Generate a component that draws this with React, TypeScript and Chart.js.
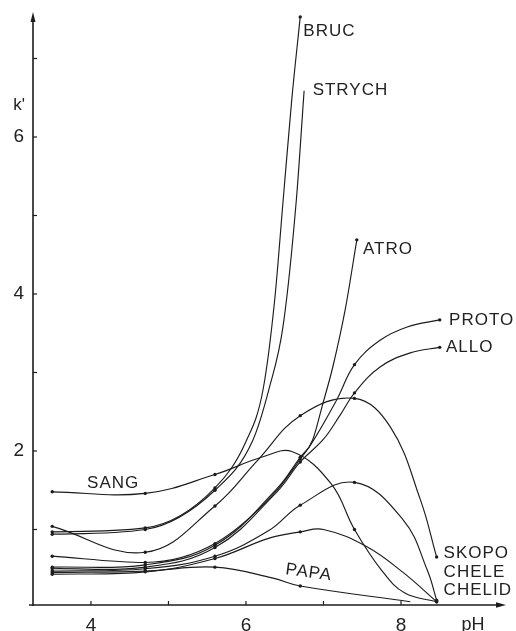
import React, { useEffect, useRef } from 'react';
import { Chart, registerables } from 'chart.js';

Chart.register(...registerables);

type P = [number, number];

// pH values at which measurements were taken (drawn with a dot)
const MEASURED_PH = [3.5, 4.7, 5.6, 6.7, 7.4, 8.5];
const X_TICKS = [4, 6, 8];
const X_MINOR = [5, 7];
const Y_TICKS = [2, 4, 6];
const Y_MINOR = [1, 3, 5, 7];

// k' versus pH
const BRUC: P[] = [[3.5, 0.97], [4.7, 1.02], [5.6, 1.53], [6.0, 2.12], [6.22, 2.78], [6.37, 3.92], [6.48, 5.2], [6.59, 6.47], [6.7, 7.53]];
const STRYCH: P[] = [[3.5, 0.94], [4.7, 1.0], [5.6, 1.5], [6.09, 2.14], [6.3, 2.8], [6.48, 3.6], [6.65, 5.2], [6.75, 6.59]];
const ATRO: P[] = [[3.5, 0.66], [4.7, 0.58], [5.6, 0.82], [6.4, 1.5], [6.7, 1.9], [6.86, 2.14], [6.98, 2.56], [7.12, 3.07], [7.28, 3.8], [7.43, 4.69]];
const PROTO: P[] = [[3.5, 0.52], [4.7, 0.55], [5.6, 0.8], [6.4, 1.52], [6.7, 1.92], [6.83, 2.07], [7.17, 2.65], [7.4, 3.1], [7.73, 3.41], [8.08, 3.58], [8.5, 3.67]];
const ALLO: P[] = [[3.5, 0.5], [4.7, 0.52], [5.6, 0.77], [6.4, 1.48], [6.7, 1.86], [7.0, 2.15], [7.21, 2.45], [7.4, 2.74], [7.73, 3.07], [8.12, 3.25], [8.5, 3.32]];
const SANG: P[] = [[3.5, 1.48], [4.7, 1.46], [5.6, 1.7], [6.2, 1.92], [6.6, 1.99], [7.1, 1.58], [7.4, 1.0], [7.75, 0.48], [8.05, 0.19], [8.46, 0.08]];
const SKOPO: P[] = [[3.5, 1.04], [4.7, 0.71], [5.6, 1.3], [6.15, 1.88], [6.7, 2.45], [7.4, 2.67], [7.86, 2.31], [8.25, 1.38], [8.46, 0.65]];
const CHELE: P[] = [[3.5, 0.47], [4.7, 0.5], [5.6, 0.66], [6.3, 0.99], [6.7, 1.31], [7.4, 1.6], [8.03, 1.12], [8.34, 0.48], [8.46, 0.1]];
const CHELID: P[] = [[3.5, 0.43], [4.7, 0.46], [5.6, 0.63], [6.3, 0.89], [6.7, 0.97], [7.0, 1.0], [7.56, 0.78], [8.03, 0.45], [8.46, 0.08]];
const PAPA: P[] = [[3.5, 0.45], [4.7, 0.47], [5.6, 0.52], [6.35, 0.38], [6.7, 0.28], [8.12, 0.08]];

const SERIES: [string, P[]][] = [
  ['BRUC', BRUC], ['STRYCH', STRYCH], ['ATRO', ATRO], ['PROTO', PROTO], ['ALLO', ALLO],
  ['SANG', SANG], ['SKOPO', SKOPO], ['CHELE', CHELE], ['CHELID', CHELID], ['PAPA', PAPA],
];
const STEEP = ['BRUC', 'STRYCH', 'ATRO'];

// curve labels, anchored in data coordinates (left edge, vertical middle)
const LABELS = [
  { t: 'BRUC', x: 6.74, y: 7.35 },
  { t: 'STRYCH', x: 6.86, y: 6.59 },
  { t: 'ATRO', x: 7.51, y: 4.57 },
  { t: 'PROTO', x: 8.62, y: 3.66 },
  { t: 'ALLO', x: 8.58, y: 3.32 },
  { t: 'SKOPO', x: 8.55, y: 0.7 },
  { t: 'CHELE', x: 8.55, y: 0.46 },
  { t: 'CHELID', x: 8.55, y: 0.22 },
  { t: 'SANG', x: 3.95, y: 1.59 },
];
const PAPA_LABEL = { t: 'PAPA', x: 6.81, y: 0.45, rot: 8 };

const INK = '#1c1c1c';
const FONT = '"Liberation Sans", Arial, sans-serif';

const decor = {
  id: 'decor',
  afterDraw(chart: any) {
    const { ctx, chartArea: a, scales } = chart;
    const xs = scales.x;
    const ys = scales.y;
    ctx.save();
    ctx.strokeStyle = INK;
    ctx.fillStyle = INK;
    ctx.lineWidth = 1.6;
    // y axis with arrow
    ctx.beginPath();
    ctx.moveTo(a.left, a.bottom + 1);
    ctx.lineTo(a.left, a.top + 2);
    ctx.stroke();
    ctx.beginPath();
    ctx.moveTo(a.left, a.top - 2);
    ctx.lineTo(a.left - 2.5, a.top + 8);
    ctx.lineTo(a.left + 2.5, a.top + 8);
    ctx.closePath();
    ctx.fill();
    // x axis with arrow
    ctx.beginPath();
    ctx.moveTo(a.left - 4, a.bottom);
    ctx.lineTo(a.right - 4, a.bottom);
    ctx.stroke();
    ctx.beginPath();
    ctx.moveTo(a.right + 1, a.bottom);
    ctx.lineTo(a.right - 9, a.bottom - 2.8);
    ctx.lineTo(a.right - 9, a.bottom + 2.8);
    ctx.closePath();
    ctx.fill();
    // inward tick marks
    ctx.lineWidth = 1.2;
    [...X_TICKS, ...X_MINOR].forEach((v) => {
      const px = xs.getPixelForValue(v);
      ctx.beginPath();
      ctx.moveTo(px, a.bottom);
      ctx.lineTo(px, a.bottom - 4);
      ctx.stroke();
    });
    [...Y_TICKS, ...Y_MINOR].forEach((v) => {
      const py = ys.getPixelForValue(v);
      ctx.beginPath();
      ctx.moveTo(a.left, py);
      ctx.lineTo(a.left + 4, py);
      ctx.stroke();
    });
    // curve labels
    ctx.fillStyle = '#222';
    ctx.font = `17px ${FONT}`;
    (ctx as any).letterSpacing = '1px';
    ctx.textAlign = 'left';
    ctx.textBaseline = 'middle';
    LABELS.forEach((l) => {
      ctx.fillText(l.t, xs.getPixelForValue(l.x), ys.getPixelForValue(l.y));
    });
    ctx.save();
    ctx.translate(xs.getPixelForValue(PAPA_LABEL.x), ys.getPixelForValue(PAPA_LABEL.y));
    ctx.rotate((PAPA_LABEL.rot * Math.PI) / 180);
    ctx.textAlign = 'center';
    ctx.fillText(PAPA_LABEL.t, 0, 0);
    ctx.restore();
    // axis titles
    (ctx as any).letterSpacing = '0px';
    ctx.font = `17px ${FONT}`;
    ctx.textAlign = 'center';
    ctx.fillText("k'", a.left - 14, ys.getPixelForValue(6.41));
    ctx.font = `18px ${FONT}`;
    ctx.textBaseline = 'top';
    ctx.fillText('pH', xs.getPixelForValue(8.93), a.bottom + 11);
    ctx.restore();
  },
};

export default function App() {
  const ref = useRef<HTMLCanvasElement | null>(null);

  useEffect(() => {
    document.body.style.margin = '0';
    document.body.style.overflow = 'hidden';
    const canvas = ref.current;
    if (!canvas) return;
    const near = (v: number) => MEASURED_PH.some((p) => Math.abs(p - v) < 0.04);
    const chart = new Chart(canvas, {
      type: 'line',
      data: {
        datasets: SERIES.map(([name, pts]) => ({
          label: name,
          data: pts.map(([x, y]) => ({ x, y })),
          borderColor: INK,
          backgroundColor: INK,
          borderWidth: 1.15,
          fill: false,
          cubicInterpolationMode: STEEP.includes(name) ? ('monotone' as const) : ('default' as const),
          tension: 0.4,
          pointRadius: (c: any) => (c.raw && near(c.raw.x) ? 1.7 : 0),
          pointBorderWidth: 0,
          pointBackgroundColor: INK,
        })),
      },
      options: {
        responsive: false,
        animation: false,
        events: [],
        layout: { padding: { top: 14, right: 11, left: 0, bottom: 0 } },
        plugins: { legend: { display: false }, tooltip: { enabled: false } },
        scales: {
          x: {
            type: 'linear',
            min: 3.252,
            max: 9.342,
            grid: { display: false, drawTicks: false },
            border: { display: false },
            afterBuildTicks: (s: any) => { s.ticks = X_TICKS.map((v) => ({ value: v })); },
            afterFit: (s: any) => { s.height = 26; },
            ticks: {
              padding: 9,
              color: '#222',
              font: { family: FONT, size: 19 },
              autoSkip: false,
              maxRotation: 0,
              callback: (v: any) => String(v),
            },
          },
          y: {
            type: 'linear',
            min: 0.038,
            max: 7.567,
            grid: { display: true, drawOnChartArea: false, drawTicks: true, tickLength: 9, color: 'rgba(0,0,0,0)' },
            border: { display: false },
            afterBuildTicks: (s: any) => { s.ticks = Y_TICKS.map((v) => ({ value: v })); },
            afterFit: (s: any) => { s.width = 33; },
            ticks: {
              padding: 0,
              color: '#222',
              font: { family: FONT, size: 19, lineHeight: 1 },
              autoSkip: false,
              callback: (v: any) => String(v),
            },
          },
        },
      },
      plugins: [decor],
    } as any);
    return () => chart.destroy();
  }, []);

  return (
    <div style={{ width: 516, height: 631, overflow: 'hidden' }}>
      <canvas ref={ref} width={516} height={631} style={{ display: 'block' }} />
    </div>
  );
}
